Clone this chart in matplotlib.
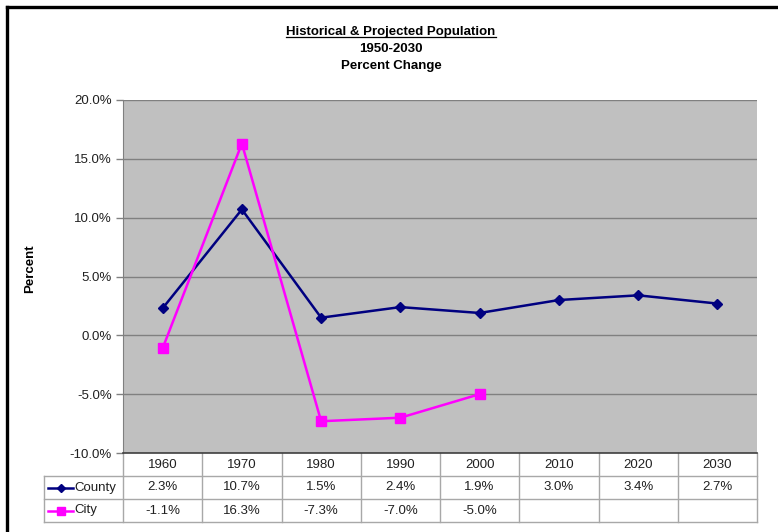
import numpy as np
import matplotlib
matplotlib.use("Agg")
import matplotlib.pyplot as plt
import matplotlib.transforms as mtransforms
from matplotlib.lines import Line2D
from matplotlib.ticker import FuncFormatter, MultipleLocator

plt.rcParams['font.family'] = ['Liberation Sans', 'DejaVu Sans']

# data
years = ['1960', '1970', '1980', '1990', '2000', '2010', '2020', '2030']
county = [2.3, 10.7, 1.5, 2.4, 1.9, 3.0, 3.4, 2.7]
city = [-1.1, 16.3, -7.3, -7.0, -5.0, None, None, None]
series_names = ['County', 'City']
series_colors = ['#000080', '#FF00FF']
series_markers = ['D', 's']
series_msize = [5, 6.5]

W, H = 778, 532
fig = plt.figure(figsize=(W / 100, H / 100), dpi=100)
fig.patch.set_facecolor('white')

# plot area (pixel measurements from the reference)
L, R, T, B = 123, 757, 100, 453
ax = fig.add_axes([L / W, 1 - B / H, (R - L) / W, (B - T) / H])
ax.set_facecolor('#C0C0C0')

x = np.arange(len(years))
all_series = [county, city]
for vals, name, col, mk, ms in zip(all_series, series_names, series_colors, series_markers, series_msize):
    y = np.array([np.nan if v is None else v for v in vals], dtype=float)
    ax.plot(x, y, color=col, lw=1.8, marker=mk, ms=ms, mec=col, mfc=col, zorder=3)

ax.set_xlim(-0.5, len(years) - 0.5)
ax.set_ylim(-10, 20)
ax.yaxis.set_major_locator(MultipleLocator(5))
ax.yaxis.set_major_formatter(FuncFormatter(lambda v, p: f"{v:.1f}%"))
ax.grid(axis='y', color='#808080', lw=1.0, zorder=1)
ax.set_axisbelow(True)
ax.set_xticks([])
ax.tick_params(axis='y', direction='out', length=5, width=1, color='#808080',
               labelsize=9.5, pad=3, labelcolor='#202020')
for s in ['top', 'right']:
    ax.spines[s].set_visible(False)
ax.spines['left'].set_color('#808080')
ax.spines['bottom'].set_color('#404040')
ax.spines['bottom'].set_linewidth(1.2)

# data table below the plot
tr = mtransforms.blended_transform_factory(ax.transData, ax.transAxes)
upx = (R - L) / len(years)          # pixels per category
rh = 23 / (B - T)
xl = -0.5 - 79 / upx
xr = len(years) - 0.5
gc = '#A8A8A8'
fs = 9.5

def tline(xs, ys, **kw):
    ax.add_line(Line2D(xs, ys, transform=tr, clip_on=False, color=gc, lw=1, **kw))

# horizontal table lines
tline([-0.5, xr], [-rh, -rh])
for k in (2, 3):
    tline([xl, xr], [-k * rh, -k * rh])
tline([xl, -0.5], [-rh, -rh])
# vertical table lines
for i in range(len(years) + 1):
    tline([i - 0.5, i - 0.5], [0, -3 * rh])
tline([xl, xl], [-rh, -3 * rh])

for i, yr in enumerate(years):
    ax.text(i, -0.5 * rh, yr, transform=tr, ha='center', va='center', fontsize=fs, color='#202020')

for r, (vals, name, col, mk, ms) in enumerate(zip(all_series, series_names, series_colors, series_markers, series_msize)):
    yc = -(1.5 + r) * rh
    for i, v in enumerate(vals):
        if v is not None:
            ax.text(i, yc, f"{v:.1f}%", transform=tr, ha='center', va='center', fontsize=fs, color='#202020')
    # legend key
    k0, k1 = xl + 4 / upx, xl + 29 / upx
    ax.add_line(Line2D([k0, k1], [yc, yc], transform=tr, clip_on=False, color=col, lw=1.8))
    ax.add_line(Line2D([(k0 + k1) / 2], [yc], transform=tr, clip_on=False, color=col,
                       marker=mk, ms=ms * 0.85, mfc=col, mec=col))
    ax.text(k1 + 1 / upx, yc, name, transform=tr, ha='left', va='center', fontsize=fs, color='#202020')

# y label
fig.text(30 / W, 1 - 269 / H, 'Percent', rotation=90, ha='center', va='center',
         fontsize=9.5, fontweight='bold')

# title
cx = 391 / W
t1 = fig.text(cx, 1 - 32 / H, 'Historical & Projected Population', ha='center', va='center',
              fontsize=9.5, fontweight='bold')
fig.text(cx, 1 - 49 / H, '1950-2030', ha='center', va='center', fontsize=9.5, fontweight='bold')
fig.text(cx, 1 - 66 / H, 'Percent Change', ha='center', va='center', fontsize=9.5, fontweight='bold')

fig.canvas.draw()
bb = t1.get_window_extent().transformed(fig.transFigure.inverted())
fig.add_artist(Line2D([bb.x0, bb.x1], [bb.y0 + 0.001, bb.y0 + 0.001], transform=fig.transFigure,
                      color='black', lw=0.9))

# outer frame (top and left edges visible)
fig.add_artist(Line2D([7 / W, 7 / W], [0, 1 - 7 / H], transform=fig.transFigure, color='black', lw=2.4))
fig.add_artist(Line2D([7 / W, 1], [1 - 7 / H, 1 - 7 / H], transform=fig.transFigure, color='black', lw=2.4))

fig.savefig('out.png', dpi=100)
